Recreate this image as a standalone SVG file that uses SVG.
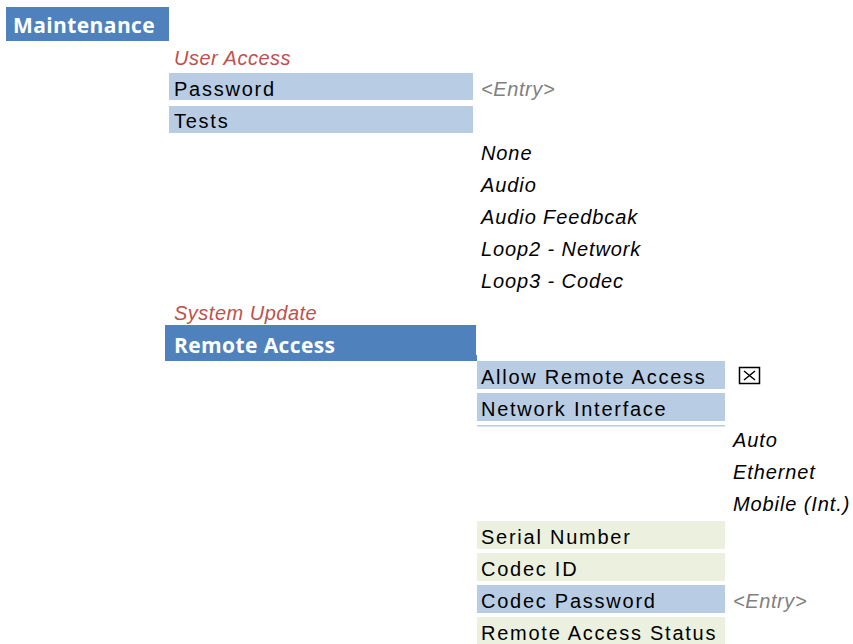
<svg xmlns="http://www.w3.org/2000/svg" width="853" height="644" viewBox="0 0 853 644">
<style>
.hd{fill:#4f81bd}
.lb{fill:#b8cce4}
.gr{fill:#ebf1de}
.ht{font-family:"Open Sans","Liberation Sans",sans-serif;font-weight:bold;font-size:21px;fill:#fff;letter-spacing:0.4px}
.t{font-family:"Liberation Sans",sans-serif;font-size:20px;fill:#000;letter-spacing:1.75px}
.sec{font-family:"Liberation Sans",sans-serif;font-style:italic;font-size:20px;fill:#c0504d;letter-spacing:0.5px}
.opt{font-family:"Liberation Sans",sans-serif;font-style:italic;font-size:20px;fill:#000;letter-spacing:0.9px}
.ent{font-family:"Liberation Sans",sans-serif;font-style:italic;font-size:20px;fill:#808080;letter-spacing:0.6px}
</style>
<rect width="853" height="644" fill="#fff"/>
<g id="maintenance"><rect class="hd" x="6" y="7" width="163" height="34"/><text class="ht" x="13" y="33">Maintenance</text></g>
<g id="user-access"><text class="sec" x="174" y="65">User Access</text></g>
<g id="password"><rect class="lb" x="169" y="73" width="304" height="27"/><text class="t" x="174" y="96">Password</text><text class="ent" x="481" y="96">&lt;Entry&gt;</text></g>
<g id="tests"><rect class="lb" x="169" y="106" width="304" height="27"/><text class="t" x="174" y="128">Tests</text></g>
<g id="test-options">
<text class="opt" x="481" y="160">None</text>
<text class="opt" x="481" y="192">Audio</text>
<text class="opt" x="481" y="224">Audio Feedbcak</text>
<text class="opt" x="481" y="256">Loop2 - Network</text>
<text class="opt" x="481" y="288">Loop3 - Codec</text>
</g>
<g id="system-update"><text class="sec" x="174" y="320">System Update</text></g>
<g id="remote-access"><rect class="hd" x="165" y="325" width="311" height="36"/><rect class="hd" x="470" y="355" width="7" height="6"/><text class="ht" x="174" y="353">Remote Access</text></g>
<g id="allow-remote-access"><rect class="lb" x="477" y="361" width="248" height="28"/><text class="t" x="481" y="384">Allow Remote Access</text>
<rect x="739.5" y="367.5" width="20" height="16" fill="none" stroke="#000" stroke-width="1.5"/><path d="M744 371 L755 380 M755 371 L744 380" stroke="#000" stroke-width="1.5"/></g>
<g id="network-interface"><rect class="lb" x="477" y="393" width="248" height="28"/><text class="t" x="481" y="416">Network Interface</text><rect class="lb" x="477" y="425" width="248" height="1.5"/></g>
<g id="network-options">
<text class="opt" x="733" y="447">Auto</text>
<text class="opt" x="733" y="479">Ethernet</text>
<text class="opt" x="733" y="511">Mobile (Int.)</text>
</g>
<g id="serial-number"><rect class="gr" x="477" y="521" width="248" height="28"/><text class="t" x="481" y="544">Serial Number</text></g>
<g id="codec-id"><rect class="gr" x="477" y="553" width="248" height="28"/><text class="t" x="481" y="576">Codec ID</text></g>
<g id="codec-password"><rect class="lb" x="477" y="585" width="248" height="28"/><text class="t" x="481" y="608">Codec Password</text><text class="ent" x="733" y="608">&lt;Entry&gt;</text></g>
<g id="remote-access-status"><rect class="gr" x="477" y="617" width="248" height="27"/><text class="t" x="481" y="640">Remote Access Status</text></g>
</svg>
